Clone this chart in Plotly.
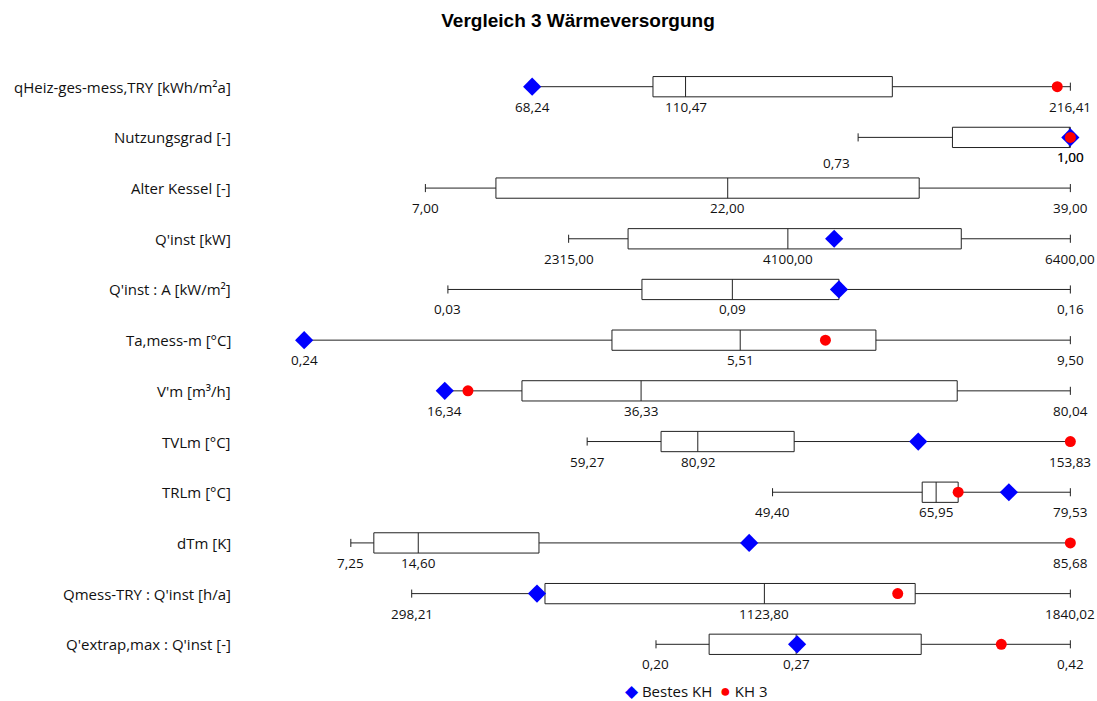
import plotly.graph_objects as go

# Kennwerte je Zeile (Originaleinheiten)
categories = [
    "qHeiz-ges-mess,TRY [kWh/m²a]",
    "Nutzungsgrad [-]",
    "Alter Kessel [-]",
    "Q'inst [kW]",
    "Q'inst : A [kW/m²]",
    "Ta,mess-m [°C]",
    "V'm [m³/h]",
    "TVLm [°C]",
    "TRLm [°C]",
    "dTm [K]",
    "Qmess-TRY : Q'inst [h/a]",
    "Q'extrap,max : Q'inst [-]",
]
minimum = [68.24, 0.73, 7.00, 2315.00, 0.0333, 0.24, 16.34, 59.27, 49.40, 7.25, 298.21, 0.1986]
q1 = [101.5, 0.85, 10.5, 2799.0, 0.0728, 3.96, 24.20, 73.73, 64.54, 9.76, 610.2, 0.227]
median = [110.47, 1.00, 22.00, 4100.00, 0.0912, 5.51, 36.33, 80.92, 65.95, 14.60, 1123.80, 0.2735]
q3 = [167.4, 1.00, 31.5, 5512.0, 0.1129, 7.15, 68.52, 99.78, 68.18, 27.76, 1476.8, 0.3403]
maximum = [216.41, 1.00, 39.00, 6400.00, 0.16, 9.50, 80.04, 153.83, 79.53, 85.68, 1840.02, 0.42]
bestes_kh = [68.24, 1.00, None, 4477.0, 0.1129, 0.24, 16.34, 124.06, 73.31, 50.67, 591.5, 0.274]
kh3 = [212.8, 1.00, None, None, None, 6.54, 18.70, 153.83, 68.18, 85.68, 1435.9, 0.3831]
series_names = ["Bestes KH", "KH 3"]

rows = list(range(len(categories)))

TEXT_FONT = "Open Sans, Noto Sans, sans-serif"


def rel(values):
    # jede Zeile wird auf ihr Maximum normiert
    return [None if v is None else v / m for v, m in zip(values, maximum)]


def fmt(v):
    return f"{v:.2f}".replace(".", ",")


fig = go.Figure()

for i in rows:
    fig.add_trace(go.Box(
        y=[i], orientation="h",
        q1=[q1[i] / maximum[i]], median=[median[i] / maximum[i]],
        q3=[q3[i] / maximum[i]], lowerfence=[minimum[i] / maximum[i]],
        upperfence=[maximum[i] / maximum[i]],
        width=0.4, whiskerwidth=0.4,
        fillcolor="white", line=dict(color="#222222", width=1),
        showlegend=False, hoverinfo="skip",
    ))

fig.add_trace(go.Scatter(
    x=rel(bestes_kh), y=rows, mode="markers", name=series_names[0],
    marker=dict(symbol="diamond", size=14, color="#0000ff"),
    cliponaxis=False, showlegend=False,
))
fig.add_trace(go.Scatter(
    x=rel(kh3), y=rows, mode="markers", name=series_names[1],
    marker=dict(symbol="circle", size=11, color="#ff0000"),
    cliponaxis=False, showlegend=False,
))

annotations = []
label_font = dict(family=TEXT_FONT, size=13.5, color="#111111")
# Sonderversatz fuer ueberlappende Beschriftungen (Zeile, Kennwert) -> (dx, dy)
label_shift = {(1, "min"): (-22, -6)}
for i in rows:
    for key, v in (("min", minimum[i]), ("med", median[i]), ("max", maximum[i])):
        dx, dy = label_shift.get((i, key), (0, 0))
        annotations.append(dict(
            x=v / maximum[i], y=i, xref="x", yref="y", text=fmt(v),
            showarrow=False, xanchor="center", yanchor="middle",
            yshift=-20 + dy, xshift=dx, font=label_font,
        ))
    annotations.append(dict(
        x=0, y=i, xref="paper", yref="y", text=categories[i],
        showarrow=False, xanchor="right", yanchor="middle", xshift=-12,
        font=dict(family=TEXT_FONT, size=15, color="#111111"),
    ))

# Legende als Textzeile mit farbigen Symbolen
annotations.append(dict(
    x=0.5345, y=0.008, xref="paper", yref="paper",
    text=(f"<span style='color:#0000ff;font-size:17px'>◆</span> {series_names[0]}"
          f"  <span style='color:#ff0000;font-size:18px'>●</span> {series_names[1]}"),
    showarrow=False, xanchor="center", yanchor="middle",
    font=dict(family=TEXT_FONT, size=15, color="#111111"),
))

fig.update_layout(
    width=1097, height=701,
    paper_bgcolor="white", plot_bgcolor="white",
    margin=dict(l=245.2, r=7.4, t=36.4, b=6.4, autoexpand=False),
    title=dict(text="<b>Vergleich 3 Wärmeversorgung</b>", x=578 / 1097, xanchor="center",
               xref="container", y=1 - 20 / 701, yanchor="middle", yref="container",
               font=dict(family="Liberation Sans, Arial, sans-serif", size=19, color="black")),
    xaxis=dict(range=[-0.05, 1.025], visible=False, fixedrange=True),
    yaxis=dict(range=[12.0, -1.0], visible=False, fixedrange=True),
    showlegend=False,
    annotations=annotations,
)

fig.write_html("out.html")
